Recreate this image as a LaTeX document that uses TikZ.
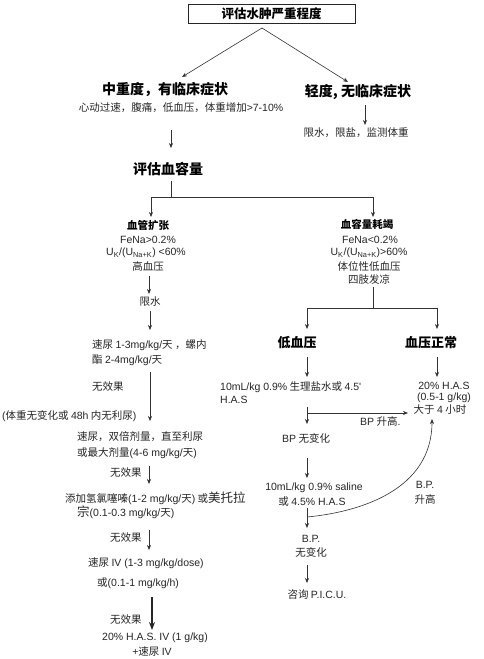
\documentclass[tikz,border=0pt]{standalone}
\usepackage{fontspec}
\setmainfont{Noto Sans CJK SC}
\newfontfamily\latf{Liberation Sans}
\newcommand\ltn[1]{{\latf #1}}
\usetikzlibrary{arrows.meta}
\tikzset{
  arr/.style={draw=black!80, line width=0.6pt, -{Stealth[length=5pt,width=4pt]}},
  thickarr/.style={draw=black!85, line width=1.4pt, -{Stealth[length=8pt,width=6pt]}},
  ln/.style={draw=black!80, line width=0.6pt},
  sm/.style={inner sep=0pt, text=black!85, font=\fontsize{10.5}{13.5}\selectfont},
  smb/.style={inner sep=0pt, font=\fontsize{10.5}{13.5}\selectfont\bfseries},
  bigb/.style={inner sep=0pt, font=\fontsize{14}{16}\selectfont\bfseries},
  midb/.style={inner sep=0pt, font=\fontsize{13}{15}\selectfont\bfseries},
}
\begin{document}
\begin{tikzpicture}[x=1pt,y=-1pt]
\useasboundingbox[fill=white] (0,0) rectangle (483,659);
% top
\node[draw=black!85, line width=0.7pt, minimum width=167pt, minimum height=19pt, inner sep=0pt,
      font=\fontsize{12.5}{14}\selectfont\bfseries] (title) at (271.5,13.5) {评估水肿严重程度};
\coordinate (apex) at (262,28);
\node[bigb] (mod) at (165,90) {中重度，有临床症状};
\coordinate (modin) at (182,77);
\node[sm] (modsym) at (181,108) {心动过速，腹痛，低血压，体重增加\ltn{>7-10\%}};
\node[bigb] (mild) at (358,92) {轻度, 无临床症状};
\coordinate (mildin) at (348,82);
\draw[arr] (apex) -- (modin);
\draw[arr] (apex) -- (mildin);
\coordinate (m1) at (365,105); \coordinate (m2) at (365,125);
\draw[arr] (m1) -- (m2);
\node[sm] (mildtx) at (356,133) {限水，限盐，监测体重};
\coordinate (a1) at (171,130); \coordinate (a2) at (171,148);
\draw[arr] (a1) -- (a2);
\node[bigb] (vol) at (168,169) {评估血容量};
\coordinate (b0) at (171,181); \coordinate (bj) at (171,197);
\coordinate (bl) at (151,197); \coordinate (br) at (373,197);
\coordinate (bl2) at (151,217); \coordinate (br2) at (373,217);
\draw[ln] (b0) -- (bj);
\draw[arr] (bj) -- (bl) -- (bl2);
\draw[arr] (bj) -- (br) -- (br2);
% left block
\node[smb] (vd) at (148,226) {血管扩张};
\node[sm] (vd1) at (148,240) {\ltn{FeNa>0.2\%}};
\node[sm] (vd2) at (146,253) {\ltn{U\textsubscript{K}/(U\textsubscript{Na+K}) <60\%}};
\node[sm] (vd3) at (148,266) {高血压};
% right block
\node[smb] (dep) at (367,224) {血容量耗竭};
\node[sm] (dep1) at (370,240) {\ltn{FeNa<0.2\%}};
\node[sm] (dep2) at (369,253) {\ltn{U\textsubscript{K}/(U\textsubscript{Na+K})>60\%}};
\node[sm] (dep3) at (369,266) {体位性低血压};
\node[sm] (dep4) at (369,279) {四肢发凉};
% left column
\coordinate (c1) at (149,276); \coordinate (c2) at (149,294);
\draw[arr] (c1) -- (c2);
\node[sm] (xs) at (150,302) {限水};
\coordinate (c3) at (150,311); \coordinate (c4) at (150,330);
\draw[arr] (c3) -- (c4);
\node[sm, anchor=west] (fu1) at (92,345) {速尿 \ltn{1-3mg/kg/}天 ，螺内};
\node[sm, anchor=west] (fu1b) at (92,360) {酯 \ltn{2-4mg/kg/}天};
\coordinate (c5) at (150,372); \coordinate (c6) at (150,421);
\draw[arr] (c5) -- (c6);
\node[sm, anchor=west] (ne1) at (92,387) {无效果};
\node[sm, anchor=west] (ne1b) at (2,416) {\ltn{(}体重无变化或 \ltn{48h} 内无利尿\ltn{)}};
\node[sm, anchor=west] (fu2) at (77,437) {速尿，双倍剂量，直至利尿};
\node[sm, anchor=west] (fu2b) at (77,453) {或最大剂量\ltn{(4-6 mg/kg/}天\ltn{)}};
\node[sm, anchor=west] (ne2) at (110,473) {无效果};
\coordinate (c7) at (149,466); \coordinate (c8) at (149,484);
\draw[arr] (c7) -- (c8);
\node[sm, anchor=west] (hz) at (65,498) {添加氢氯噻嗪\ltn{(1-2 mg/kg/}天\ltn{)} 或{\fontsize{12.5}{14}\selectfont 美托拉}};
\node[sm, anchor=west] (hzb) at (77,512) {{\fontsize{12.5}{14}\selectfont 宗}\ltn{(0.1-0.3 mg/kg/}天\ltn{)}};
\node[sm, anchor=west] (ne3) at (110,538) {无效果};
\coordinate (c9) at (149,530); \coordinate (c10) at (149,550);
\draw[arr] (c9) -- (c10);
\node[sm, anchor=west] (iv) at (88,563) {速尿 \ltn{IV (1-3 mg/kg/dose)}};
\node[sm, anchor=west] (ivb) at (97,583) {或\ltn{(0.1-1 mg/kg/h)}};
\coordinate (c11) at (152,597); \coordinate (c12) at (152,630);
\draw[thickarr] (c11) -- (c12);
\node[sm, anchor=west] (ne4) at (110,620) {无效果};
\node[sm] (has) at (155,638) {\ltn{20\% H.A.S. IV (1 g/kg)}};
\node[sm] (has2) at (152,651) {\ltn{+}速尿 \ltn{IV}};
% right column
\coordinate (d0) at (373,287); \coordinate (dj) at (373,308);
\coordinate (dl) at (307,308); \coordinate (dr) at (437,308);
\coordinate (dl2) at (307,329); \coordinate (dr2) at (437,329);
\draw[ln] (d0) -- (dj);
\draw[arr] (dj) -- (dl) -- (dl2);
\draw[arr] (dj) -- (dr) -- (dr2);
\node[midb] (hypo) at (297,343) {低血压};
\node[midb] (norm) at (431,343) {血压正常};
\coordinate (e1) at (307,357); \coordinate (e2) at (307,377);
\coordinate (f1) at (437,357); \coordinate (f2) at (437,377);
\draw[arr] (e1) -- (e2);
\draw[arr] (f1) -- (f2);
\node[sm, anchor=west] (sal) at (220,387) {\ltn{10mL/kg 0.9\%} 生理盐水或 \ltn{4.5'}};
\node[sm, anchor=west] (salb) at (220,400) {\ltn{H.A.S}};
\node[sm] (h20) at (444,386) {\ltn{20\% H.A.S}};
\node[sm] (h20b) at (444,398) {\ltn{(0.5-1 g/kg)}};
\node[sm] (h20c) at (440,410) {大于 \ltn{4} 小时};
\coordinate (e3) at (307,407); \coordinate (ej) at (307,413);
\coordinate (eh) at (408,413); \coordinate (e4) at (307,424);
\draw[ln] (e3) -- (ej);
\draw[arr] (ej) -- (eh);
\draw[arr] (ej) -- (e4);
\node[sm, anchor=west] (bpup) at (360,421) {\ltn{BP} 升高\ltn{.}};
\node[sm, anchor=west] (bpnc) at (282,438) {\ltn{BP} 无变化};
\coordinate (e5) at (307,458); \coordinate (e6) at (307,478);
\draw[arr] (e5) -- (e6);
\node[sm] (sal2) at (314,488) {\ltn{10mL/kg 0.9\% saline}};
\node[sm] (sal2b) at (312,502) {或 \ltn{4.5\% H.A.S}};
\coordinate (e7) at (307,508); \coordinate (e8) at (307,528);
\draw[arr] (e7) -- (e8);
\coordinate (cs) at (307,517); \coordinate (ce) at (432,419);
\draw[arr] (cs) .. controls (360,512) and (432,490) .. (ce);
\node[sm] (bpu1) at (425,485) {\ltn{B.P.}};
\node[sm] (bpu2) at (425,499) {升高};
\node[sm] (bpn1) at (311,539) {\ltn{B.P.}};
\node[sm] (bpn2) at (311,552) {无变化};
\coordinate (e9) at (307,565); \coordinate (e10) at (307,583);
\draw[arr] (e9) -- (e10);
\node[sm] (picu) at (317,595) {咨询 \ltn{P.I.C.U.}};
\end{tikzpicture}
\end{document}
